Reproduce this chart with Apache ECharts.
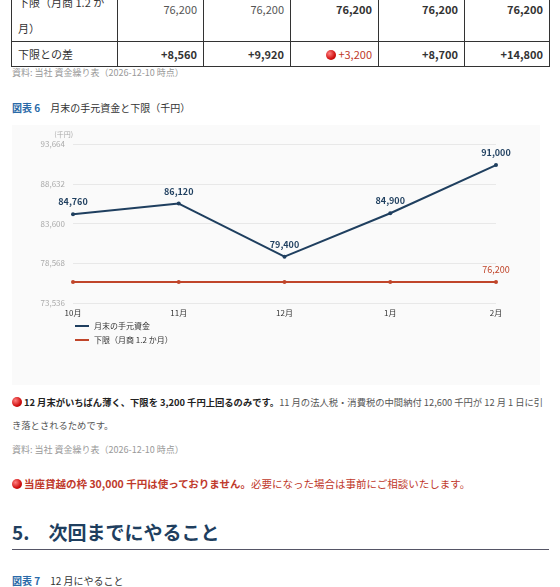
<!DOCTYPE html>
<html><head><meta charset="utf-8">
<script src="https://cdn.jsdelivr.net/npm/echarts@6/dist/echarts.min.js"></script>
<style>
body{margin:0;width:560px;height:587px;background:#fff;font-family:"Noto Sans CJK JP","Noto Sans",sans-serif;color:#333;position:relative;overflow:hidden}
.a{position:absolute;white-space:nowrap}
table{position:absolute;left:11px;top:-12px;border-collapse:collapse;font-size:11px;width:538px;table-layout:fixed}
td{border:1px solid #333;padding:0 6px;text-align:right;box-sizing:border-box}
td:first-child{text-align:left}
.dot{display:inline-block;width:10px;height:10px;border-radius:50%;background:radial-gradient(circle at 35% 35%,#ff8080,#d01010 60%,#900);vertical-align:-1px;margin-right:2px}
.src{font-size:9px;color:#999}
.cap{font-size:10px;color:#333}.cap b{color:#2a6aa8;font-weight:bold}
</style></head><body>
<table>
<colgroup><col style="width:106px"><col style="width:86px"><col style="width:87px"><col style="width:88px"><col style="width:86px"><col style="width:85px"></colgroup>
<tr style="height:52px"><td style="line-height:26px;vertical-align:top;padding-top:0;white-space:nowrap">下限（月商 1.2 か<br>月）</td><td style="color:#555;vertical-align:top;padding-top:12px">76,200</td><td style="color:#555;vertical-align:top;padding-top:12px">76,200</td><td style="font-weight:bold;vertical-align:top;padding-top:12px">76,200</td><td style="font-weight:bold;vertical-align:top;padding-top:12px">76,200</td><td style="font-weight:bold;vertical-align:top;padding-top:12px">76,200</td></tr>
<tr style="height:25px"><td>下限との差</td><td><b>+8,560</b></td><td><b>+9,920</b></td><td style="color:#c0392b"><span class="dot"></span>+3,200</td><td><b>+8,700</b></td><td><b>+14,800</b></td></tr>
</table>
<div class="a src" style="left:12px;top:66px">資料: 当社 資金繰り表（2026-12-10 時点）</div>
<div class="a cap" style="left:12px;top:100px"><b>図表 6</b>　月末の手元資金と下限（千円）</div>
<div id="c" class="a" style="left:12px;top:125px;width:528px;height:260px;background:#fafafa"></div>
<div class="a" style="left:12px;top:395px;font-size:9.3px;color:#555"><span class="dot"></span><b style="color:#222">12 月末がいちばん薄く、下限を 3,200 千円上回るのみです。</b>11 月の法人税・消費税の中間納付 12,600 千円が 12 月 1 日に引</div>
<div class="a" style="left:12px;top:418px;font-size:9.3px;color:#555">き落とされるためです。</div>
<div class="a src" style="left:12px;top:443px">資料: 当社 資金繰り表（2026-12-10 時点）</div>
<div class="a" style="left:12px;top:476px;font-size:10.5px;color:#c0392b"><span class="dot"></span><b>当座貸越の枠 30,000 千円は使っておりません。</b>必要になった場合は事前にご相談いたします。</div>
<div class="a" style="left:12px;top:518px;font-size:19px;color:#1f3f5f;font-weight:bold">5.　次回までにやること</div>
<div class="a" style="left:12px;top:549px;width:537px;border-top:1px solid #556"></div>
<div class="a cap" style="left:12px;top:573px"><b>図表 7</b>　12 月にやること</div>
<script>
const months=["10月","11月","12月","1月","2月"];
const cash=[84760,86120,79400,84900,91000];
const floorV=[76200,76200,76200,76200,76200];
const names=["月末の手元資金","下限（月商 1.2 か月）"];
const fmt=v=>v.toLocaleString('en-US');
const ch=echarts.init(document.getElementById('c'));
ch.setOption({
 textStyle:{fontFamily:"Noto Sans CJK JP"},
 grid:{left:61,right:44,top:19,bottom:82},
 legend:{orient:'vertical',left:58,top:192,itemWidth:14,itemHeight:2,itemGap:6,icon:'rect',textStyle:{fontSize:8,color:'#333'},data:names},
 xAxis:{type:'category',data:months,boundaryGap:false,axisLine:{show:false},axisTick:{show:false},axisLabel:{fontSize:8,color:'#333',margin:6}},
 yAxis:{type:'value',name:'(千円)',nameGap:6,nameTextStyle:{fontSize:7,color:'#aaa',align:'right'},min:73536,max:93664,interval:5032,axisLabel:{fontSize:8,color:'#aaa',formatter:fmt},splitLine:{lineStyle:{color:'#e8e8e8'}}},
 series:[
  {name:names[0],type:'line',data:cash,color:'#1f3f5f',lineStyle:{width:2},symbol:'circle',symbolSize:4,
   label:{show:true,position:'top',fontSize:9,color:'#1f3f5f',fontWeight:'bold',formatter:p=>fmt(p.value),distance:6}},
  {name:names[1],type:'line',data:floorV,color:'#c0452a',lineStyle:{width:2},symbol:'circle',symbolSize:4,
   label:{show:true,position:'top',fontSize:9,color:'#c0452a',distance:6,formatter:p=>p.dataIndex===4?fmt(p.value):''}}
 ]
});
</script>
</body></html>
